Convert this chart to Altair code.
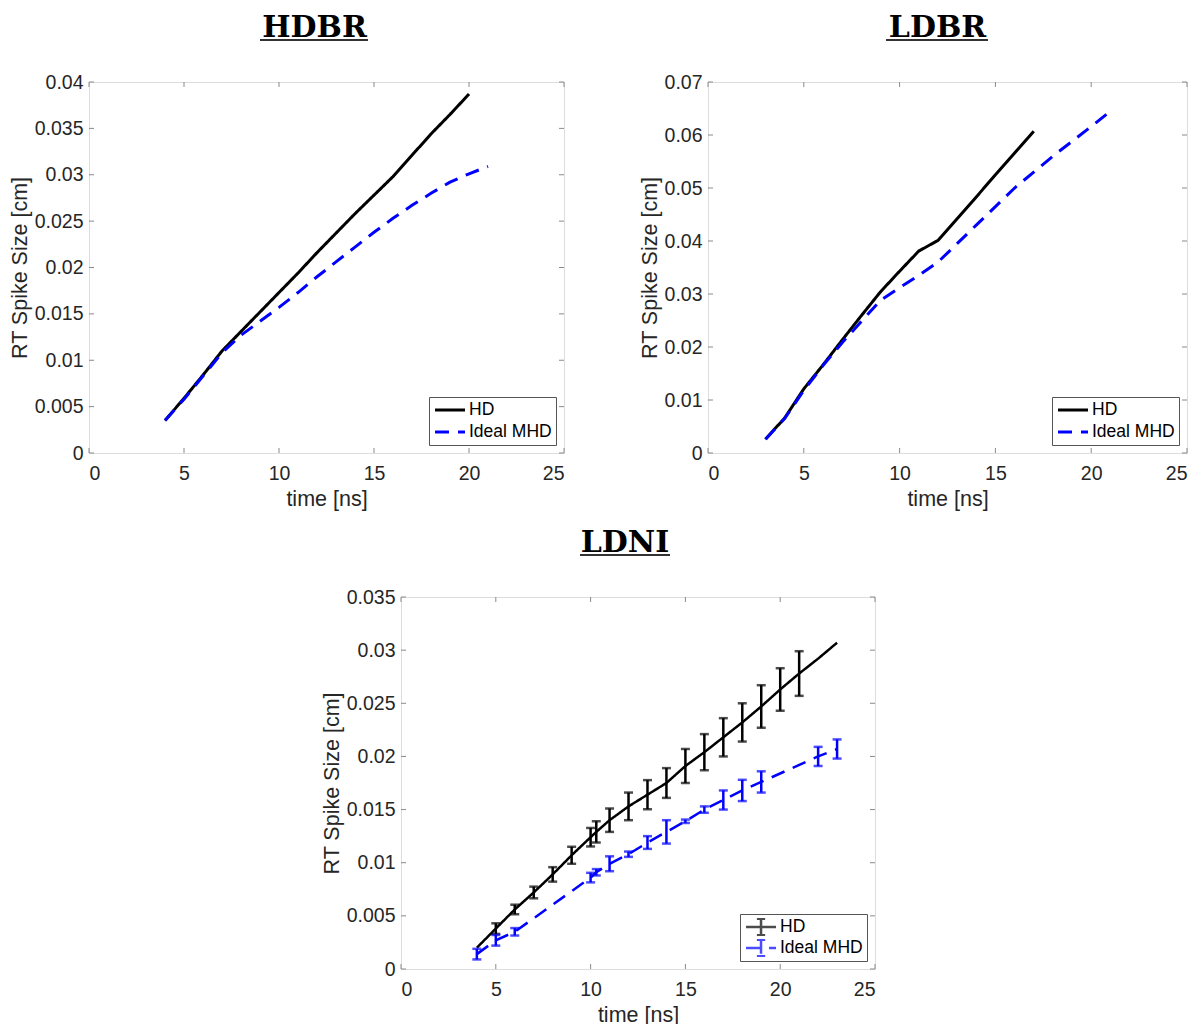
import altair as alt
import pandas as pd

FONT = "Liberation Sans"
TXT = "#262626"
BOX = "#8a8a8a"

SERIES = ["HD", "Ideal MHD"]
COLORS = ["#000000", "#0000ff"]
DASHES = [[1, 0], [14, 9]]

X_TICKS = [0, 5, 10, 15, 20, 25]

# ---------------- HDBR ----------------
hdbr_hd_t = [4, 5, 6, 7, 8, 9, 10, 11, 12, 13, 14, 15, 16, 17, 18, 19, 20]
hdbr_hd_v = [0.0035, 0.0059, 0.0084, 0.0110, 0.0131, 0.0152, 0.0173, 0.0194, 0.0216,
             0.0237, 0.0258, 0.0278, 0.0298, 0.0321, 0.0344, 0.0365, 0.0387]
hdbr_mhd_t = [4, 5, 6, 7, 8, 9, 10, 11, 12, 13, 14, 15, 16, 17, 18, 19, 20, 21]
hdbr_mhd_v = [0.0035, 0.0058, 0.0083, 0.0108, 0.0127, 0.0142, 0.0157, 0.0173, 0.0190,
              0.0206, 0.0222, 0.0238, 0.0253, 0.0267, 0.0280, 0.0292, 0.0301, 0.0309]
hdbr_y_ticks = [0, 0.005, 0.01, 0.015, 0.02, 0.025, 0.03, 0.035, 0.04]

# ---------------- LDBR ----------------
ldbr_hd_t = [3, 4, 5, 6, 7, 8, 9, 10, 11, 12, 13, 14, 15, 16, 17]
ldbr_hd_v = [0.0026, 0.0066, 0.0121, 0.0166, 0.0213, 0.0259, 0.0304, 0.0343, 0.0381,
             0.0401, 0.0442, 0.0483, 0.0525, 0.0566, 0.0607]
ldbr_mhd_t = [3, 4, 5, 6, 7, 8, 9, 10, 11, 12, 13, 14, 15, 16, 17, 18, 19, 20, 21]
ldbr_mhd_v = [0.0026, 0.0065, 0.0118, 0.0165, 0.0208, 0.0248, 0.0288, 0.0312, 0.0335,
              0.0360, 0.0395, 0.0430, 0.0465, 0.0500, 0.0530, 0.0560, 0.0588, 0.0616, 0.0645]
ldbr_y_ticks = [0, 0.01, 0.02, 0.03, 0.04, 0.05, 0.06, 0.07]

# ---------------- LDNI ----------------
ldni_hd_t = [4, 5, 6, 7, 8, 9, 10, 10.3, 11, 12, 13, 14, 15, 16, 17, 18, 19, 20, 21, 22, 23]
ldni_hd_v = [0.0020, 0.0038, 0.0056, 0.0072, 0.0089, 0.0107, 0.0124, 0.0129, 0.0140, 0.0153,
             0.0164, 0.0175, 0.0191, 0.0204, 0.0218, 0.0232, 0.0247, 0.0263, 0.0278, 0.0292, 0.0307]
ldni_hd_err = [0, 0.0005, 0.00045, 0.00055, 0.00068, 0.0008, 0.00087, 0.0010, 0.0011, 0.0013,
               0.00137, 0.0014, 0.0016, 0.0017, 0.0018, 0.0018, 0.0020, 0.0020, 0.0021, 0, 0]
ldni_mhd_t = [4, 5, 6, 10, 10.3, 11, 12, 13, 14, 15, 16, 17, 18, 19, 22, 23]
ldni_mhd_v = [0.0014, 0.0027, 0.0035, 0.0086, 0.0091, 0.0099, 0.0108, 0.0119, 0.0129, 0.0139,
              0.0150, 0.0159, 0.0168, 0.0176, 0.0200, 0.0207]
ldni_mhd_err = [0.0005, 0.0005, 0.00035, 0.00045, 0.0003, 0.0007, 0.00025, 0.0006, 0.0011,
                0.00016, 0.0003, 0.0009, 0.0010, 0.0010, 0.0009, 0.0009]
ldni_y_ticks = [0, 0.005, 0.01, 0.015, 0.02, 0.025, 0.03, 0.035]


def line_df(hd_t, hd_v, mhd_t, mhd_v):
    return pd.concat([
        pd.DataFrame({"time": hd_t, "size": hd_v, "series": "HD"}),
        pd.DataFrame({"time": mhd_t, "size": mhd_v, "series": "Ideal MHD"}),
    ], ignore_index=True)


def err_df(t, v, e, name):
    rows = [(ti, vi - ei, vi + ei, name) for ti, vi, ei in zip(t, v, e) if ei > 0]
    return pd.DataFrame(rows, columns=["time", "lo", "hi", "series"])


def make_panel(title, title_dx, ul, df, y_ticks, W, H, legend_symbol, lw, row_pad, err=None):
    xs = alt.Scale(domain=[0, 25], nice=False, zero=False)
    ys = alt.Scale(domain=[y_ticks[0], y_ticks[-1]], nice=False, zero=False)
    x_axis = alt.Axis(values=X_TICKS, format="~g", ticks=False, domain=False, grid=False,
                      labelFont=FONT, labelFontSize=19.5, labelColor=TXT, labelPadding=11,
                      title="time [ns]", titleFont=FONT, titleFontSize=21.5,
                      titleFontWeight="normal", titleColor=TXT, titlePadding=6)
    y_axis = alt.Axis(values=y_ticks, format="~g", ticks=False, domain=False, grid=False,
                      labelFont=FONT, labelFontSize=19.5, labelColor=TXT, labelPadding=6,
                      title="RT Spike Size [cm]", titleFont=FONT, titleFontSize=21.5,
                      titleFontWeight="normal", titleColor=TXT, titlePadding=3)
    X = alt.X("time:Q", scale=xs, axis=x_axis)
    Y = alt.Y("size:Q", scale=ys, axis=y_axis)
    leg = alt.Legend(title=None, orient="bottom-right", offset=8, symbolType=legend_symbol,
                     symbolSize=225, symbolStrokeWidth=lw, labelFont=FONT, labelFontSize=17.5,
                     labelColor="black", strokeColor="#555555", fillColor="white",
                     padding=4, rowPadding=row_pad, labelOffset=18, cornerRadius=0,
                     clipHeight=18)
    C = alt.Color("series:N", scale=alt.Scale(domain=SERIES, range=COLORS), legend=leg)
    D = alt.StrokeDash("series:N", scale=alt.Scale(domain=SERIES, range=DASHES), legend=leg)

    layers = [alt.Chart(df).mark_line(strokeWidth=lw, strokeCap="butt").encode(
        x=X, y=Y, color=C, strokeDash=D)]

    if err is not None:
        Ylo = alt.Y("lo:Q", scale=ys, axis=y_axis)
        Yhi = alt.Y("hi:Q", scale=ys, axis=y_axis)
        layers.append(alt.Chart(err).mark_rule(strokeWidth=2.5).encode(
            x=X, y=Ylo, y2="hi:Q", color=C))
        layers.append(alt.Chart(err).mark_tick(orient="horizontal", size=9, thickness=2.5).encode(
            x=X, y=Ylo, color=C))
        layers.append(alt.Chart(err).mark_tick(orient="horizontal", size=9, thickness=2.5).encode(
            x=X, y=Yhi, color=C))

    # inward tick marks on all four sides of the box
    ty = pd.DataFrame({"size": y_ticks})
    tx = pd.DataFrame({"time": X_TICKS})
    tk = dict(color=BOX, strokeWidth=1)
    layers += [
        alt.Chart(ty).mark_rule(**tk).encode(y=Y, x=alt.value(0), x2=alt.value(5)),
        alt.Chart(ty).mark_rule(**tk).encode(y=Y, x=alt.value(W - 5), x2=alt.value(W)),
        alt.Chart(tx).mark_rule(**tk).encode(x=X, y=alt.value(H - 5), y2=alt.value(H)),
        alt.Chart(tx).mark_rule(**tk).encode(x=X, y=alt.value(0), y2=alt.value(5)),
    ]
    # title underline
    layers.append(alt.Chart(pd.DataFrame({"k": [0]})).mark_rule(color="#333333", strokeWidth=2).encode(
        x=alt.value(ul[0]), x2=alt.value(ul[1]), y=alt.value(-42)))

    return alt.layer(*layers).properties(
        width=W, height=H,
        title=alt.TitleParams(title, font="DejaVu Serif", fontSize=30, fontWeight="bold",
                              color="black", frame="group", anchor="middle", dx=title_dx,
                              baseline="alphabetic", offset=-28),
    )


LINE_SYM = "M-0.93,0H3.07"
ERR_SYM = "M-0.93,0H3.07M1.07,-1.1V1.1M0.52,-1.1H1.62M0.52,1.1H1.62"

A = make_panel("HDBR", -12, (171, 279),
               line_df(hdbr_hd_t, hdbr_hd_v, hdbr_mhd_t, hdbr_mhd_v),
               hdbr_y_ticks, 475, 371, LINE_SYM, 3, 4)
B = make_panel("LDBR", -10, (178, 280),
               line_df(ldbr_hd_t, ldbr_hd_v, ldbr_mhd_t, ldbr_mhd_v),
               ldbr_y_ticks, 479, 371, LINE_SYM, 3, 4)
C_ = make_panel("LDNI", -13, (179, 269),
                line_df(ldni_hd_t, ldni_hd_v, ldni_mhd_t, ldni_mhd_v),
                ldni_y_ticks, 474, 372, ERR_SYM, 2.5, 3,
                err=pd.concat([err_df(ldni_hd_t, ldni_hd_v, ldni_hd_err, "HD"),
                               err_df(ldni_mhd_t, ldni_mhd_v, ldni_mhd_err, "Ideal MHD")],
                              ignore_index=True))

top = alt.hconcat(A, B, spacing=73).resolve_scale(
    color="independent", strokeDash="independent").resolve_legend(
    color="independent", strokeDash="independent")

chart = alt.vconcat(top, C_, spacing=16, center=True).resolve_scale(
    color="independent", strokeDash="independent").resolve_legend(
    color="independent", strokeDash="independent").properties(
    padding={"left": 8, "top": 12, "right": 5, "bottom": 5}
).configure_view(stroke=BOX, strokeWidth=1).configure(background="white")

chart.save("out.html", embed_options={"renderer": "svg", "actions": False})
